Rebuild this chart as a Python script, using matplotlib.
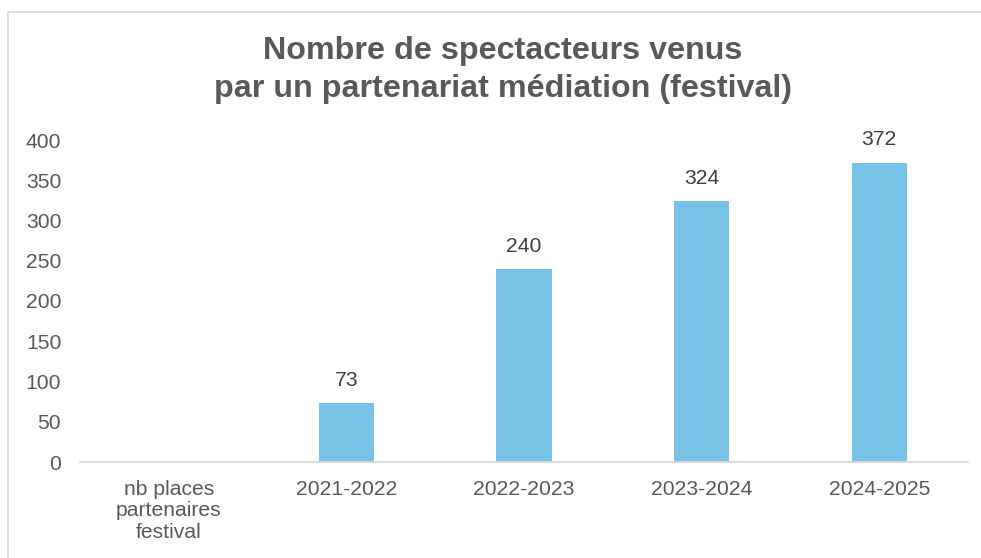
import matplotlib
matplotlib.use("Agg")
import matplotlib.pyplot as plt
from matplotlib.patches import Rectangle

categories = ["nb places\npartenaires\nfestival", "2021-2022", "2022-2023", "2023-2024", "2024-2025"]
values = [None, 73, 240, 324, 372]
yticks = [0, 50, 100, 150, 200, 250, 300, 350, 400]
title = "Nombre de spectacteurs venus\npar un partenariat médiation (festival)"

plt.rcParams['font.family'] = ['Liberation Sans', 'DejaVu Sans']

W, H = 981, 558
fig = plt.figure(figsize=(W / 100, H / 100), dpi=100)
ax = fig.add_axes([80 / W, 1 - 462 / H, (968 - 80) / W, (462 - 140) / H])

x = list(range(len(categories)))
bx = [i for i, v in zip(x, values) if v is not None]
bv = [v for v in values if v is not None]
bars = ax.bar(bx, bv, width=0.31, color="#78C2E8", zorder=2)
for xi, v in zip(bx, bv):
    ax.annotate(str(v), (xi, v), xytext=(0, 9.5), textcoords="offset points",
                ha="center", va="bottom", fontsize=15.2, color="#404040")

ax.set_xlim(-0.5, len(categories) - 0.5)
ax.set_ylim(0, 400)
ax.set_yticks(yticks)
ax.set_xticks(x)
ax.set_xticklabels(categories, fontsize=15.2, color="#595959", linespacing=1.15)
ax.tick_params(axis="y", length=0, pad=13.5, labelsize=15.2, labelcolor="#595959")
ax.tick_params(axis="x", length=0, pad=13)
for s in ["top", "right", "left"]:
    ax.spines[s].set_visible(False)
ax.spines["bottom"].set_color("#D9D9D9")
ax.spines["bottom"].set_linewidth(1.3)

fig.text(503 / W, 1 - 70 / H, title, ha="center", va="center",
         fontsize=23.2, fontweight="bold", color="#595959", linespacing=1.33)

fig.patches.append(Rectangle((8 / W, -0.1), 1.2, 1 - 12 / H + 0.1,
                             transform=fig.transFigure, fill=False,
                             edgecolor="#D9D9D9", linewidth=1.2))

fig.savefig("out.png", dpi=100)
